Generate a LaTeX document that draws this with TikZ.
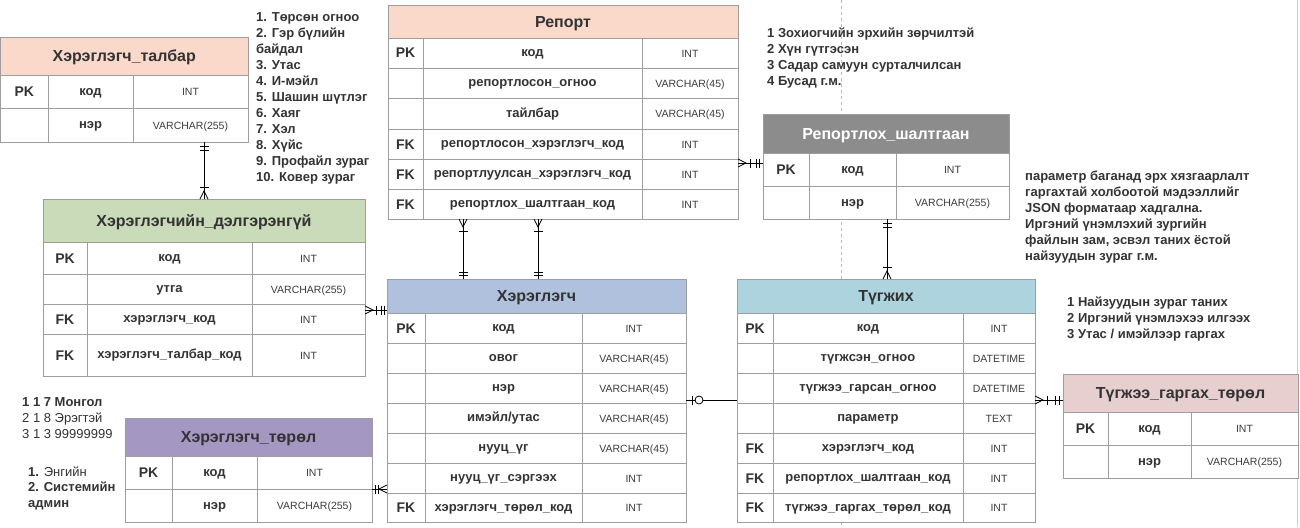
\documentclass[tikz,border=0pt]{standalone}
\usepackage{fontspec}
\setmainfont{Liberation Sans}
\usetikzlibrary{calc}

\definecolor{tabline}{HTML}{9E9E9E}
\definecolor{txtdark}{HTML}{333333}
\definecolor{typetxtc}{HTML}{3C3C3C}
\definecolor{hpeach}{HTML}{FAD9CB}
\definecolor{hgreen}{HTML}{CADBB9}
\definecolor{hblue}{HTML}{B0C1DD}
\definecolor{hcyan}{HTML}{ADD3DF}
\definecolor{hgray}{HTML}{8C8C8C}
\definecolor{hrose}{HTML}{E7CFCF}
\definecolor{hviolet}{HTML}{A497C1}
\definecolor{pageline}{HTML}{B8B8B8}

\tikzset{
  cell/.style={draw=tabline, line width=0.9pt, fill=white},
  headtxt/.style={font=\bfseries\fontsize{16}{19}\selectfont, text=txtdark,
    text height=11.5pt, text depth=0pt, inner sep=0pt},
  keytxt/.style={font=\bfseries\fontsize{14}{16}\selectfont, text=txtdark,
    text height=10pt, text depth=0pt, inner sep=0pt},
  fieldtxt/.style={font=\bfseries\fontsize{13}{15}\selectfont, text=txtdark,
    text height=9.5pt, text depth=2.5pt, inner sep=0pt},
  typetxt/.style={font=\fontsize{10.5}{12}\selectfont, text=typetxtc,
    text height=8pt, text depth=0pt, inner sep=0pt},
  notetxt/.style={font=\bfseries\fontsize{13}{16}\selectfont, text=txtdark,
    align=left, anchor=north west, inner sep=0pt},
  conn/.style={draw=black, line width=0.8pt},
  tableframe/.style={inner sep=0pt, outer sep=0pt},
}

% header band of a table: id, x-left, x-right, y-top, y-bottom, fill, title
\newcommand\ERhead[7]{%
  \fill[#6] (#2,#4) rectangle (#3,#5);
  \draw[draw=tabline, line width=0.9pt] (#2,#4) rectangle (#3,#5);
  \node[headtxt] (#1) at ({(#2+#3)/2},{(#4+#5)/2}) {#7};}

% invisible frame node around a whole table: id, x-left, x-right, y-top, y-bottom
\newcommand\ERframe[5]{%
  \node[tableframe, minimum width={(#3-#2)*1pt}, minimum height={(#5-#4)*1pt}]
    (#1) at ({(#2+#3)/2},{(#4+#5)/2}) {};}

% one table row using the column edges \cA \cB \cC \cD:
% id, y-top, y-bottom, key, field, type
\newcommand\ERrow[6]{%
  \path[cell] (\cA,#2) rectangle (\cB,#3);
  \path[cell] (\cB,#2) rectangle (\cC,#3);
  \path[cell] (\cC,#2) rectangle (\cD,#3);
  \node[keytxt] (#1-k) at ({(\cA+\cB)/2},{(#2+#3)/2}) {#4};
  \node[fieldtxt] (#1) at ({(\cB+\cC)/2},{(#2+#3)/2}) {#5};
  \node[typetxt] (#1-t) at ({(\cC+\cD)/2},{(#2+#3)/2}) {#6};}

% crow's foot: prongs open at the point, line leaves along (dx,dy)
\newcommand\ERmany[3]{%
  \draw[conn] ($(#1)+({-4*(#3)},{4*(#2)})$) -- ($(#1)+({8*(#2)},{8*(#3)})$)
    -- ($(#1)+({4*(#3)},{-4*(#2)})$);}
% single bar across the line at a distance from the point
\newcommand\ERbar[4]{%
  \draw[conn] ($(#1)+({#4*(#2)-4.5*(#3)},{#4*(#3)+4.5*(#2)})$)
    -- ($(#1)+({#4*(#2)+4.5*(#3)},{#4*(#3)-4.5*(#2)})$);}
% small ring on the line at a distance from the point
\newcommand\ERring[4]{%
  \draw[conn, fill=white] ($(#1)+({#4*(#2)},{#4*(#3)})$) circle[radius=4pt];}

\begin{document}
\begin{tikzpicture}[x=1pt, y=-1pt]
\useasboundingbox (0,0) rectangle (1300,527);
\fill[white] (0,0) rectangle (1300,527);

% page guide lines
\draw[pageline, line width=0.6pt, dash pattern=on 3pt off 3pt] (841,0) -- (841,527);
\draw[pageline!70, line width=0.6pt] (1297.5,0) -- (1297.5,527);

% ---------- Хэрэглэгч_талбар ----------
\ERframe{tal}{0.5}{248}{37}{142}
\ERhead{tal-h}{0.5}{248}{37}{75}{hpeach}{Хэрэглэгч\_талбар}
\def\cA{0.5}\def\cB{48}\def\cC{133}\def\cD{248}
\ERrow{tal-1}{75}{108}{PK}{код}{INT}
\ERrow{tal-2}{108}{142}{}{нэр}{VARCHAR(255)}

% ---------- Репорт ----------
\ERframe{rep}{388}{738}{5}{219}
\ERhead{rep-h}{388}{738}{5}{38}{hpeach}{Репорт}
\def\cA{388}\def\cB{423}\def\cC{642}\def\cD{738}
\ERrow{rep-1}{38}{68}{PK}{код}{INT}
\ERrow{rep-2}{68}{98}{}{репортлосон\_огноо}{VARCHAR(45)}
\ERrow{rep-3}{98}{129}{}{тайлбар}{VARCHAR(45)}
\ERrow{rep-4}{129}{159}{FK}{репортлосон\_хэрэглэгч\_код}{INT}
\ERrow{rep-5}{159}{189}{FK}{репортлуулсан\_хэрэглэгч\_код}{INT}
\ERrow{rep-6}{189}{219}{FK}{репортлох\_шалтгаан\_код}{INT}

% ---------- Репортлох_шалтгаан ----------
\ERframe{rsn}{763}{1009}{114}{219}
\ERhead{rsn-h}{763}{1009}{114}{153}{hgray}{\color{white}Репортлох\_шалтгаан}
\def\cA{763}\def\cB{809}\def\cC{896}\def\cD{1009}
\ERrow{rsn-1}{153}{186}{PK}{код}{INT}
\ERrow{rsn-2}{186}{219}{}{нэр}{VARCHAR(255)}

% ---------- Хэрэглэгчийн_дэлгэрэнгүй ----------
\ERframe{dlg}{43}{365}{199}{376}
\ERhead{dlg-h}{43}{365}{199}{242}{hgreen}{Хэрэглэгчийн\_дэлгэрэнгүй}
\def\cA{43}\def\cB{87}\def\cC{252}\def\cD{365}
\ERrow{dlg-1}{242}{274}{PK}{код}{INT}
\ERrow{dlg-2}{274}{304}{}{утга}{VARCHAR(255)}
\ERrow{dlg-3}{304}{334}{FK}{хэрэглэгч\_код}{INT}
\ERrow{dlg-4}{334}{376}{FK}{хэрэглэгч\_талбар\_код}{INT}

% ---------- Хэрэглэгч ----------
\ERframe{usr}{387}{686}{279}{522}
\ERhead{usr-h}{387}{686}{279}{313}{hblue}{Хэрэглэгч}
\def\cA{387}\def\cB{425}\def\cC{582}\def\cD{686}
\ERrow{usr-1}{313}{343}{PK}{код}{INT}
\ERrow{usr-2}{343}{373}{}{овог}{VARCHAR(45)}
\ERrow{usr-3}{373}{403}{}{нэр}{VARCHAR(45)}
\ERrow{usr-4}{403}{433}{}{имэйл/утас}{VARCHAR(45)}
\ERrow{usr-5}{433}{463}{}{нууц\_үг}{VARCHAR(45)}
\ERrow{usr-6}{463}{493}{}{нууц\_үг\_сэргээх}{INT}
\ERrow{usr-7}{493}{522}{FK}{хэрэглэгч\_төрөл\_код}{INT}

% ---------- Түгжих ----------
\ERframe{tug}{737}{1035}{279}{522}
\ERhead{tug-h}{737}{1035}{279}{313}{hcyan}{Түгжих}
\def\cA{737}\def\cB{773}\def\cC{963}\def\cD{1035}
\ERrow{tug-1}{313}{343}{PK}{код}{INT}
\ERrow{tug-2}{343}{373}{}{түгжсэн\_огноо}{DATETIME}
\ERrow{tug-3}{373}{403}{}{түгжээ\_гарсан\_огноо}{DATETIME}
\ERrow{tug-4}{403}{433}{}{параметр}{TEXT}
\ERrow{tug-5}{433}{463}{FK}{хэрэглэгч\_код}{INT}
\ERrow{tug-6}{463}{493}{FK}{репортлох\_шалтгаан\_код}{INT}
\ERrow{tug-7}{493}{522}{FK}{түгжээ\_гаргах\_төрөл\_код}{INT}

% ---------- Түгжээ_гаргах_төрөл ----------
\ERframe{tgt}{1063}{1298}{374}{478}
\ERhead{tgt-h}{1063}{1298}{374}{412}{hrose}{Түгжээ\_гаргах\_төрөл}
\def\cA{1063}\def\cB{1108}\def\cC{1191}\def\cD{1298}
\ERrow{tgt-1}{412}{445}{PK}{код}{INT}
\ERrow{tgt-2}{445}{478}{}{нэр}{VARCHAR(255)}

% ---------- Хэрэглэгч_төрөл ----------
\ERframe{ttr}{125}{372}{418}{522}
\ERhead{ttr-h}{125}{372}{418}{456}{hviolet}{Хэрэглэгч\_төрөл}
\def\cA{125}\def\cB{172}\def\cC{257}\def\cD{372}
\ERrow{ttr-1}{456}{489}{PK}{код}{INT}
\ERrow{ttr-2}{489}{522}{}{нэр}{VARCHAR(255)}

% ---------- notes ----------
\node[notetxt] (note-fields) at (256,10.3) {\strut 1. Төрсөн огноо\\2. Гэр бүлийн\\байдал\\3. Утас\\4. И-мэйл\\5. Шашин шүтлэг\\6. Хаяг\\7. Хэл\\8. Хүйс\\9. Профайл зураг\\10. Ковер зураг};
\node[notetxt] (note-reasons) at (767,26.3) {\strut 1 Зохиогчийн эрхийн зөрчилтэй\\2 Хүн гүтгэсэн\\3 Садар самуун сурталчилсан\\4 Бусад г.м.};
\node[notetxt] (note-param) at (1025,169.3) {\strut параметр баганад эрх хязгаарлалт\\гаргахтай холбоотой мэдээллийг\\JSON форматаар хадгална.\\Иргэний үнэмлэхий зургийн\\файлын зам, эсвэл таних ёстой\\найзуудын зураг г.м.};
\node[notetxt] (note-unlock) at (1067,295.3) {\strut 1 Найзуудын зураг таних\\2 Иргэний үнэмлэхээ илгээх\\3 Утас / имэйлээр гаргах};
\node[notetxt] (note-values) at (22,395.3) {\strut 1 1 7 Монгол\\\mdseries 2 1 8 Эрэгтэй\\\mdseries 3 1 3 99999999};
\node[notetxt, font=\fontsize{13}{15.5}\selectfont] (note-types) at (28,465.3) {\strut\textbf{1.} Энгийн\\\textbf{2. Системийн}\\\textbf{админ}};

% ---------- connectors ----------
\coordinate (gx204) at (204,0);
\coordinate (gx463) at (463,0);
\coordinate (gx538) at (538,0);
\coordinate (gx887) at (887,0);
\coordinate (gy163) at (0,163);
\coordinate (gy310) at (0,310);
\coordinate (gy400) at (0,400);
\coordinate (gy489) at (0,489);

% Хэрэглэгч_талбар -- Хэрэглэгчийн_дэлгэрэнгүй
\coordinate (e1a) at (tal.south -| gx204);
\coordinate (e1b) at (dlg.north -| gx204);
\draw[conn] (e1a) -- (e1b);
\ERbar{e1a}{0}{1}{4}\ERbar{e1a}{0}{1}{8}
\ERmany{e1b}{0}{-1}\ERbar{e1b}{0}{-1}{12}

% Репорт -- Хэрэглэгч (reporter)
\coordinate (e2a) at (rep.south -| gx463);
\coordinate (e2b) at (usr.north -| gx463);
\draw[conn] (e2a) -- (e2b);
\ERmany{e2a}{0}{1}\ERbar{e2a}{0}{1}{12}
\ERbar{e2b}{0}{-1}{4}\ERbar{e2b}{0}{-1}{7}

% Репорт -- Хэрэглэгч (reported)
\coordinate (e3a) at (rep.south -| gx538);
\coordinate (e3b) at (usr.north -| gx538);
\draw[conn] (e3a) -- (e3b);
\ERmany{e3a}{0}{1}\ERbar{e3a}{0}{1}{12}
\ERbar{e3b}{0}{-1}{4}\ERbar{e3b}{0}{-1}{7}

% Репорт -- Репортлох_шалтгаан
\coordinate (e4a) at (rep.east |- gy163);
\coordinate (e4b) at (rsn.west |- gy163);
\draw[conn] (e4a) -- (e4b);
\ERmany{e4a}{1}{0}\ERbar{e4a}{1}{0}{12}
\ERbar{e4b}{-1}{0}{4}\ERbar{e4b}{-1}{0}{7}

% Репортлох_шалтгаан -- Түгжих
\coordinate (e5a) at (rsn.south -| gx887);
\coordinate (e5b) at (tug.north -| gx887);
\draw[conn] (e5a) -- (e5b);
\ERbar{e5a}{0}{1}{4}\ERbar{e5a}{0}{1}{8}
\ERmany{e5b}{0}{-1}\ERbar{e5b}{0}{-1}{12}

% Хэрэглэгч -- Түгжих
\coordinate (e6a) at (usr.east |- gy400);
\coordinate (e6b) at (tug.west |- gy400);
\draw[conn] (e6a) -- (e6b);
\ERbar{e6a}{1}{0}{6}\ERring{e6a}{1}{0}{13}

% Түгжих -- Түгжээ_гаргах_төрөл
\coordinate (e7a) at (tug.east |- gy400);
\coordinate (e7b) at (tgt.west |- gy400);
\draw[conn] (e7a) -- (e7b);
\ERmany{e7a}{1}{0}\ERbar{e7a}{1}{0}{12}
\ERbar{e7b}{-1}{0}{4}\ERbar{e7b}{-1}{0}{8}

% Хэрэглэгч_төрөл -- Хэрэглэгч
\coordinate (e8a) at (ttr.east |- gy489);
\coordinate (e8b) at (usr.west |- gy489);
\draw[conn] (e8a) -- (e8b);
\ERbar{e8a}{1}{0}{3}\ERbar{e8a}{1}{0}{6}
\ERmany{e8b}{-1}{0}

% Хэрэглэгчийн_дэлгэрэнгүй -- Хэрэглэгч
\coordinate (e9a) at (dlg.east |- gy310);
\coordinate (e9b) at (usr.west |- gy310);
\draw[conn] (e9a) -- (e9b);
\ERmany{e9a}{1}{0}\ERbar{e9a}{1}{0}{11}
\ERbar{e9b}{-1}{0}{3}\ERbar{e9b}{-1}{0}{6}

\end{tikzpicture}
\end{document}
